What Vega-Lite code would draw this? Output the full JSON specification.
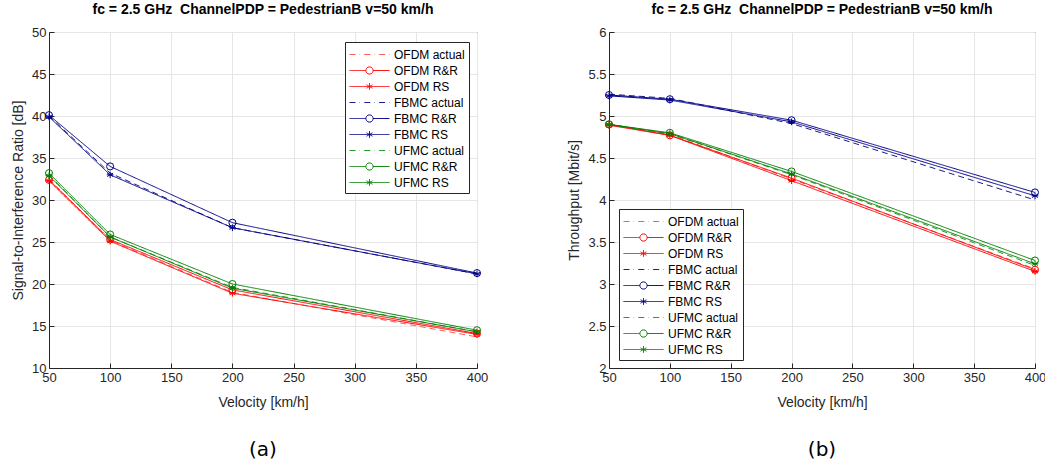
{
  "$schema": "https://vega.github.io/schema/vega-lite/v6.json",
  "padding": {"left": 11, "top": 2, "right": 0, "bottom": 0},
  "datasets": {
    "sir": [
      {"series": "OFDM actual", "vel": 50, "value": 32.5}, {"series": "OFDM actual", "vel": 100, "value": 25.2}, {"series": "OFDM actual", "vel": 200, "value": 19.0}, {"series": "OFDM actual", "vel": 400, "value": 13.7},
      {"series": "OFDM R&R", "vel": 50, "value": 32.4}, {"series": "OFDM R&R", "vel": 100, "value": 25.3}, {"series": "OFDM R&R", "vel": 200, "value": 19.3}, {"series": "OFDM R&R", "vel": 400, "value": 14.1},
      {"series": "OFDM RS", "vel": 50, "value": 32.3}, {"series": "OFDM RS", "vel": 100, "value": 25.1}, {"series": "OFDM RS", "vel": 200, "value": 18.9}, {"series": "OFDM RS", "vel": 400, "value": 14.0},
      {"series": "FBMC actual", "vel": 50, "value": 40.0}, {"series": "FBMC actual", "vel": 100, "value": 33.2}, {"series": "FBMC actual", "vel": 200, "value": 26.7}, {"series": "FBMC actual", "vel": 400, "value": 21.2},
      {"series": "FBMC R&R", "vel": 50, "value": 40.1}, {"series": "FBMC R&R", "vel": 100, "value": 34.0}, {"series": "FBMC R&R", "vel": 200, "value": 27.3}, {"series": "FBMC R&R", "vel": 400, "value": 21.3},
      {"series": "FBMC RS", "vel": 50, "value": 39.9}, {"series": "FBMC RS", "vel": 100, "value": 33.0}, {"series": "FBMC RS", "vel": 200, "value": 26.7}, {"series": "FBMC RS", "vel": 400, "value": 21.2},
      {"series": "UFMC actual", "vel": 50, "value": 33.0}, {"series": "UFMC actual", "vel": 100, "value": 25.6}, {"series": "UFMC actual", "vel": 200, "value": 19.6}, {"series": "UFMC actual", "vel": 400, "value": 14.3},
      {"series": "UFMC R&R", "vel": 50, "value": 33.2}, {"series": "UFMC R&R", "vel": 100, "value": 25.9}, {"series": "UFMC R&R", "vel": 200, "value": 20.0}, {"series": "UFMC R&R", "vel": 400, "value": 14.5},
      {"series": "UFMC RS", "vel": 50, "value": 32.9}, {"series": "UFMC RS", "vel": 100, "value": 25.6}, {"series": "UFMC RS", "vel": 200, "value": 19.5}, {"series": "UFMC RS", "vel": 400, "value": 14.3}
    ],
    "thr": [
      {"series": "OFDM actual", "vel": 50, "value": 4.90}, {"series": "OFDM actual", "vel": 100, "value": 4.78}, {"series": "OFDM actual", "vel": 200, "value": 4.25}, {"series": "OFDM actual", "vel": 400, "value": 3.18},
      {"series": "OFDM R&R", "vel": 50, "value": 4.90}, {"series": "OFDM R&R", "vel": 100, "value": 4.77}, {"series": "OFDM R&R", "vel": 200, "value": 4.26}, {"series": "OFDM R&R", "vel": 400, "value": 3.17},
      {"series": "OFDM RS", "vel": 50, "value": 4.89}, {"series": "OFDM RS", "vel": 100, "value": 4.77}, {"series": "OFDM RS", "vel": 200, "value": 4.23}, {"series": "OFDM RS", "vel": 400, "value": 3.15},
      {"series": "FBMC actual", "vel": 50, "value": 5.26}, {"series": "FBMC actual", "vel": 100, "value": 5.21}, {"series": "FBMC actual", "vel": 200, "value": 4.91}, {"series": "FBMC actual", "vel": 400, "value": 4.00},
      {"series": "FBMC R&R", "vel": 50, "value": 5.25}, {"series": "FBMC R&R", "vel": 100, "value": 5.20}, {"series": "FBMC R&R", "vel": 200, "value": 4.95}, {"series": "FBMC R&R", "vel": 400, "value": 4.09},
      {"series": "FBMC RS", "vel": 50, "value": 5.24}, {"series": "FBMC RS", "vel": 100, "value": 5.19}, {"series": "FBMC RS", "vel": 200, "value": 4.93}, {"series": "FBMC RS", "vel": 400, "value": 4.05},
      {"series": "UFMC actual", "vel": 50, "value": 4.90}, {"series": "UFMC actual", "vel": 100, "value": 4.79}, {"series": "UFMC actual", "vel": 200, "value": 4.30}, {"series": "UFMC actual", "vel": 400, "value": 3.22},
      {"series": "UFMC R&R", "vel": 50, "value": 4.90}, {"series": "UFMC R&R", "vel": 100, "value": 4.80}, {"series": "UFMC R&R", "vel": 200, "value": 4.34}, {"series": "UFMC R&R", "vel": 400, "value": 3.28},
      {"series": "UFMC RS", "vel": 50, "value": 4.90}, {"series": "UFMC RS", "vel": 100, "value": 4.79}, {"series": "UFMC RS", "vel": 200, "value": 4.31}, {"series": "UFMC RS", "vel": 400, "value": 3.24}
    ]
  },
  "spacing": 78,
  "hconcat": [
    {
      "spacing": 25,
      "vconcat": [
        {
          "width": 428, "height": 336,
          "title": "fc = 2.5 GHz\u00a0 ChannelPDP = PedestrianB v=50 km/h",
          "data": {"name": "sir"},
          "encoding": {
            "x": {"field": "vel", "type": "quantitative", "scale": {"domain": [50, 400], "nice": false}, "axis": {"values": [50, 100, 150, 200, 250, 300, 350, 400], "title": "Velocity [km/h]", "titlePadding": 11}},
            "y": {"field": "value", "type": "quantitative", "scale": {"domain": [10, 50], "nice": false, "zero": false}, "axis": {"values": [10, 15, 20, 25, 30, 35, 40, 45, 50], "title": "Signal-to-Interference Ratio [dB]"}},
            "color": {"field": "series", "type": "nominal",
              "scale": {"domain": ["OFDM actual", "OFDM R&R", "OFDM RS", "FBMC actual", "FBMC R&R", "FBMC RS", "UFMC actual", "UFMC R&R", "UFMC RS"],
                        "range": ["#ff5a5a", "#ff0000", "#ff0000", "#1c1c8c", "#000088", "#000088", "#2a9a2a", "#008000", "#008000"]},
              "legend": {"title": null, "orient": "none", "legendX": 296, "legendY": 10}}
          },
          "layer": [
            {"mark": {"type": "line", "strokeWidth": 1},
             "encoding": {"strokeDash": {"field": "series", "type": "nominal",
               "scale": {"domain": ["OFDM actual", "OFDM R&R", "OFDM RS", "FBMC actual", "FBMC R&R", "FBMC RS", "UFMC actual", "UFMC R&R", "UFMC RS"],
                         "range": [[6, 4], [1, 0], [1, 0], [6, 4], [1, 0], [1, 0], [6, 4], [1, 0], [1, 0]]},
               "legend": null}}},
            {"transform": [{"filter": "indexof(datum.series, 'R&R') >= 0"}],
             "mark": {"type": "point", "shape": "circle", "filled": false, "size": 50, "strokeWidth": 1, "opacity": 1}},
            {"transform": [{"filter": "indexof(datum.series, ' RS') >= 0"}],
             "mark": {"type": "point", "shape": "M0,-1L0,1M-0.87,-0.5L0.87,0.5M-0.87,0.5L0.87,-0.5M-1,0L1,0", "filled": false, "size": 45, "strokeWidth": 1, "opacity": 1}},
            {"transform": [{"filter": "false"}],
             "mark": {"type": "point", "filled": false, "strokeWidth": 1, "opacity": 1},
             "encoding": {
               "shape": {"field": "series", "type": "nominal",
                 "scale": {"domain": ["OFDM actual", "OFDM R&R", "OFDM RS", "FBMC actual", "FBMC R&R", "FBMC RS", "UFMC actual", "UFMC R&R", "UFMC RS"],
                           "range": ["M-2.5,0L-1.2,0M-0.65,0L0.65,0M1.2,0L2.5,0", "M-2.5,0L-0.45,0M0.45,0L2.5,0M-0.45,0A0.45,0.45,0,1,1,0.45,0A0.45,0.45,0,1,1,-0.45,0", "M-2.5,0L2.5,0M0,-0.42L0,0.42M-0.37,-0.21L0.37,0.21M-0.37,0.21L0.37,-0.21",
                                     "M-2.5,0L-1.2,0M-0.65,0L0.65,0M1.2,0L2.5,0", "M-2.5,0L-0.45,0M0.45,0L2.5,0M-0.45,0A0.45,0.45,0,1,1,0.45,0A0.45,0.45,0,1,1,-0.45,0", "M-2.5,0L2.5,0M0,-0.42L0,0.42M-0.37,-0.21L0.37,0.21M-0.37,0.21L0.37,-0.21",
                                     "M-2.5,0L-1.2,0M-0.65,0L0.65,0M1.2,0L2.5,0", "M-2.5,0L-0.45,0M0.45,0L2.5,0M-0.45,0A0.45,0.45,0,1,1,0.45,0A0.45,0.45,0,1,1,-0.45,0", "M-2.5,0L2.5,0M0,-0.42L0,0.42M-0.37,-0.21L0.37,0.21M-0.37,0.21L0.37,-0.21"]},
                 "legend": {"title": null, "orient": "none", "legendX": 296, "legendY": 10}}
             }}
          ]
        },
        {
          "width": 428, "height": 30,
          "view": {"stroke": null},
          "data": {"values": [{"label": "(a)"}]},
          "mark": {"type": "text", "font": "DejaVu Sans", "fontSize": 20, "color": "#000000", "baseline": "middle", "align": "center"},
          "encoding": {"text": {"field": "label"}}
        }
      ]
    },
    {
      "spacing": 25,
      "vconcat": [
        {
          "width": 426, "height": 336,
          "title": "fc = 2.5 GHz\u00a0 ChannelPDP = PedestrianB v=50 km/h",
          "data": {"name": "thr"},
          "encoding": {
            "x": {"field": "vel", "type": "quantitative", "scale": {"domain": [50, 400], "nice": false}, "axis": {"values": [50, 100, 150, 200, 250, 300, 350, 400], "title": "Velocity [km/h]", "titlePadding": 11}},
            "y": {"field": "value", "type": "quantitative", "scale": {"domain": [2, 6], "nice": false, "zero": false}, "axis": {"values": [2, 2.5, 3, 3.5, 4, 4.5, 5, 5.5, 6], "labelExpr": "'' + datum.value", "title": "Throughput [Mbit/s]"}},
            "color": {"field": "series", "type": "nominal",
              "scale": {"domain": ["OFDM actual", "OFDM R&R", "OFDM RS", "FBMC actual", "FBMC R&R", "FBMC RS", "UFMC actual", "UFMC R&R", "UFMC RS"],
                        "range": ["#ff5a5a", "#ff0000", "#ff0000", "#1c1c8c", "#000088", "#000088", "#2a9a2a", "#008000", "#008000"]},
              "legend": {"title": null, "orient": "none", "legendX": 10, "legendY": 177}}
          },
          "layer": [
            {"mark": {"type": "line", "strokeWidth": 1},
             "encoding": {"strokeDash": {"field": "series", "type": "nominal",
               "scale": {"domain": ["OFDM actual", "OFDM R&R", "OFDM RS", "FBMC actual", "FBMC R&R", "FBMC RS", "UFMC actual", "UFMC R&R", "UFMC RS"],
                         "range": [[6, 4], [1, 0], [1, 0], [6, 4], [1, 0], [1, 0], [6, 4], [1, 0], [1, 0]]},
               "legend": null}}},
            {"transform": [{"filter": "indexof(datum.series, 'R&R') >= 0"}],
             "mark": {"type": "point", "shape": "circle", "filled": false, "size": 50, "strokeWidth": 1, "opacity": 1}},
            {"transform": [{"filter": "indexof(datum.series, ' RS') >= 0"}],
             "mark": {"type": "point", "shape": "M0,-1L0,1M-0.87,-0.5L0.87,0.5M-0.87,0.5L0.87,-0.5M-1,0L1,0", "filled": false, "size": 45, "strokeWidth": 1, "opacity": 1}},
            {"transform": [{"filter": "false"}],
             "mark": {"type": "point", "filled": false, "strokeWidth": 1, "opacity": 1},
             "encoding": {
               "shape": {"field": "series", "type": "nominal",
                 "scale": {"domain": ["OFDM actual", "OFDM R&R", "OFDM RS", "FBMC actual", "FBMC R&R", "FBMC RS", "UFMC actual", "UFMC R&R", "UFMC RS"],
                           "range": ["M-2.5,0L-1.2,0M-0.65,0L0.65,0M1.2,0L2.5,0", "M-2.5,0L-0.45,0M0.45,0L2.5,0M-0.45,0A0.45,0.45,0,1,1,0.45,0A0.45,0.45,0,1,1,-0.45,0", "M-2.5,0L2.5,0M0,-0.42L0,0.42M-0.37,-0.21L0.37,0.21M-0.37,0.21L0.37,-0.21",
                                     "M-2.5,0L-1.2,0M-0.65,0L0.65,0M1.2,0L2.5,0", "M-2.5,0L-0.45,0M0.45,0L2.5,0M-0.45,0A0.45,0.45,0,1,1,0.45,0A0.45,0.45,0,1,1,-0.45,0", "M-2.5,0L2.5,0M0,-0.42L0,0.42M-0.37,-0.21L0.37,0.21M-0.37,0.21L0.37,-0.21",
                                     "M-2.5,0L-1.2,0M-0.65,0L0.65,0M1.2,0L2.5,0", "M-2.5,0L-0.45,0M0.45,0L2.5,0M-0.45,0A0.45,0.45,0,1,1,0.45,0A0.45,0.45,0,1,1,-0.45,0", "M-2.5,0L2.5,0M0,-0.42L0,0.42M-0.37,-0.21L0.37,0.21M-0.37,0.21L0.37,-0.21"]},
                 "legend": {"title": null, "orient": "none", "legendX": 10, "legendY": 177}}
             }}
          ]
        },
        {
          "width": 426, "height": 30,
          "view": {"stroke": null},
          "data": {"values": [{"label": "(b)"}]},
          "mark": {"type": "text", "font": "DejaVu Sans", "fontSize": 20, "color": "#000000", "baseline": "middle", "align": "center"},
          "encoding": {"text": {"field": "label"}}
        }
      ]
    }
  ],
  "resolve": {"scale": {"color": "independent", "shape": "independent", "strokeDash": "independent"}},
  "config": {
    "font": "Liberation Sans",
    "view": {"stroke": "#262626", "strokeWidth": 1},
    "axis": {"grid": true, "gridColor": "#e6e6e6", "gridWidth": 1, "domainColor": "#262626", "tickColor": "#262626", "tickSize": -5, "labelPadding": 8, "labelFlush": false,
             "labelColor": "#262626", "labelFontSize": 13, "labelFont": "Liberation Sans", "titleFont": "Liberation Sans", "titleFontSize": 14, "titleFontWeight": "normal", "titleColor": "#262626", "titlePadding": 6},
    "title": {"fontSize": 14, "font": "Liberation Sans", "fontWeight": "bold", "color": "#000000", "offset": 9},
    "legend": {"symbolSize": 256, "symbolOffset": 12, "symbolStrokeWidth": 1, "labelFontSize": 12, "labelFont": "Liberation Sans", "labelColor": "#000000",
               "strokeColor": "#262626", "fillColor": "#ffffff", "padding": 4, "cornerRadius": 0, "rowPadding": 1, "labelOffset": 16}
  }
}
